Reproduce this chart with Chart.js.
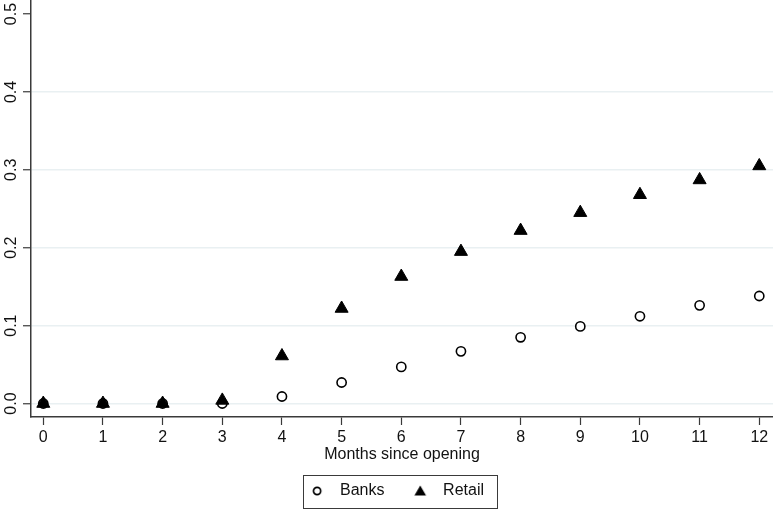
<!DOCTYPE html>
<html>
<head>
<meta charset="utf-8">
<script src="https://cdn.jsdelivr.net/npm/chart.js@4"></script>
<style>
  html, body { margin: 0; padding: 0; background: #fff; overflow: hidden; }
  #wrap { width: 773px; height: 509px; }
</style>
</head>
<body>
<div id="wrap"><canvas id="monthsChart"></canvas></div>
<script>
const months = [0, 1, 2, 3, 4, 5, 6, 7, 8, 9, 10, 11, 12];
const banks = [0, 0, 0, 0, 0.009, 0.027, 0.047, 0.067, 0.085, 0.099, 0.112, 0.126, 0.138];
const retail = [0, 0, 0, 0.004, 0.061, 0.122, 0.163, 0.195, 0.222, 0.245, 0.268, 0.287, 0.305];
const yTicks = [0, 0.1, 0.2, 0.3, 0.4, 0.5];
const seriesNames = ['Banks', 'Retail'];

const axisColor = '#3a3a3a';
const gridColor = '#e9f0f2';
const fontFamily = "'Liberation Sans', Arial, Helvetica, sans-serif";

Chart.defaults.font.family = fontFamily;
Chart.defaults.color = '#111';

// small marker images for the legend so the sizes match the original
function legendMarker(kind) {
  const c = document.createElement('canvas');
  c.width = 14;
  c.height = 14;
  const g = c.getContext('2d');
  if (kind === 'circle') {
    g.beginPath();
    g.arc(7, 7, 3.6, 0, Math.PI * 2);
    g.lineWidth = 1.7;
    g.strokeStyle = '#000';
    g.stroke();
  } else {
    g.beginPath();
    g.moveTo(7, 1.5);
    g.lineTo(12.8, 11.5);
    g.lineTo(1.2, 11.5);
    g.closePath();
    g.fillStyle = '#000';
    g.fill();
  }
  return c;
}
const legendMarkers = [legendMarker('circle'), legendMarker('triangle')];

// y labels are drawn rotated, like the Stata original
const rotatedYLabels = {
  id: 'rotatedYLabels',
  afterDraw(chart) {
    const { ctx } = chart;
    const y = chart.scales.y;
    ctx.save();
    ctx.font = '16px ' + fontFamily;
    ctx.fillStyle = '#111';
    ctx.textAlign = 'center';
    ctx.textBaseline = 'alphabetic';
    yTicks.forEach(v => {
      const py = y.getPixelForValue(v);
      ctx.save();
      ctx.translate(15.5, py);
      ctx.rotate(-Math.PI / 2);
      ctx.fillText(v.toFixed(1), 0, 0);
      ctx.restore();
    });
    ctx.restore();
  }
};

// frame around the legend
const legendBox = {
  id: 'legendBox',
  afterDraw(chart) {
    const lg = chart.legend;
    if (!lg || !lg.legendHitBoxes || !lg.legendHitBoxes.length) return;
    const hb = lg.legendHitBoxes;
    const left = Math.min(...hb.map(b => b.left)) - 8;
    const right = Math.max(...hb.map(b => b.left + b.width)) + 4;
    const { ctx } = chart;
    ctx.save();
    ctx.strokeStyle = axisColor;
    ctx.lineWidth = 1;
    ctx.strokeRect(Math.round(left) + 0.5, 475.5, Math.round(right - left), 33);
    ctx.restore();
  }
};

new Chart(document.getElementById('monthsChart'), {
  type: 'scatter',
  data: {
    datasets: [
      {
        label: seriesNames[0],
        data: months.map((m, i) => ({ x: m, y: banks[i] })),
        order: 1,
        pointStyle: 'circle',
        pointRadius: 4.6,
        pointBorderWidth: 1.6,
        borderColor: '#000',
        backgroundColor: '#fff',
        pointBackgroundColor: '#fff'
      },
      {
        label: seriesNames[1],
        data: months.map((m, i) => ({ x: m, y: retail[i] })),
        order: 0,
        pointStyle: 'triangle',
        pointRadius: 7.5,
        pointBorderWidth: 1,
        borderColor: '#000',
        backgroundColor: '#000'
      }
    ]
  },
  options: {
    responsive: true,
    maintainAspectRatio: false,
    animation: false,
    layout: { padding: 0, autoPadding: false },
    scales: {
      x: {
        type: 'linear',
        min: -0.206,
        max: 12.23,
        afterBuildTicks(scale) {
          scale.ticks = months.map(v => ({ value: v }));
        },
        afterFit(scale) {
          scale.height = 54;
          scale.paddingLeft = 0;
          scale.paddingRight = 0;
        },
        ticks: {
          font: { size: 16 },
          color: '#111',
          padding: 3,
          maxRotation: 0,
          callback: v => String(v)
        },
        grid: {
          drawOnChartArea: false,
          drawTicks: true,
          tickLength: 8,
          tickColor: axisColor,
          tickWidth: 1.2
        },
        border: { color: axisColor, width: 1.5 },
        title: {
          display: true,
          text: 'Months since opening',
          font: { size: 16 },
          color: '#111',
          padding: { top: 0, bottom: 6.4 }
        }
      },
      y: {
        min: -0.0173,
        max: 0.518,
        afterBuildTicks(scale) {
          scale.ticks = yTicks.map(v => ({ value: v }));
        },
        afterFit(scale) {
          scale.width = 31;
          scale.paddingTop = 0;
          scale.paddingBottom = 0;
        },
        ticks: { display: false },
        grid: {
          color: c => (c.tick && c.tick.value === 0.5 ? 'rgba(0,0,0,0)' : gridColor),
          lineWidth: 1.5,
          drawTicks: true,
          tickLength: 8,
          tickColor: axisColor,
          tickWidth: 1.2
        },
        border: { color: axisColor, width: 1.5 }
      }
    },
    plugins: {
      legend: {
        position: 'bottom',
        fullSize: false,
        labels: {
          usePointStyle: true,
          boxWidth: 12,
          boxHeight: 12,
          padding: 12,
          font: { size: 16 },
          color: '#111',
          sort: (a, b) => a.datasetIndex - b.datasetIndex,
          generateLabels(chart) {
            const items = Chart.defaults.plugins.legend.labels.generateLabels(chart);
            items.forEach(it => {
              it.pointStyle = legendMarkers[it.datasetIndex];
              it.text = it.datasetIndex === 0 ? '  ' + it.text + '    ' : '  ' + it.text + '  ';
            });
            return items;
          }
        }
      },
      tooltip: { enabled: false }
    }
  },
  plugins: [rotatedYLabels, legendBox]
});
</script>
</body>
</html>
